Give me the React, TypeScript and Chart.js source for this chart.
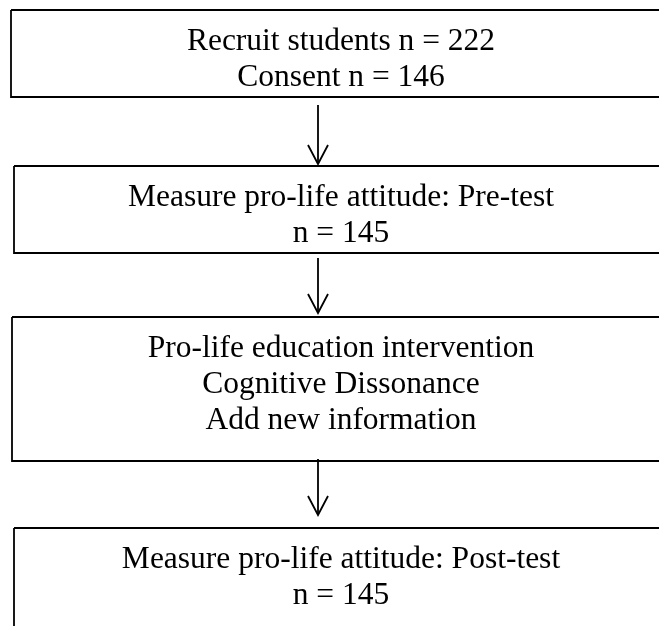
import React, { useEffect, useRef } from "react";
import { Chart, registerables } from "chart.js";

Chart.register(...registerables);

// Flowchart content
const stepLines: string[][] = [
  ["Recruit students n = 222", "Consent n = 146"],
  ["Measure pro-life attitude: Pre-test", "n = 145"],
  ["Pro-life education intervention", "Cognitive Dissonance", "Add new information"],
  ["Measure pro-life attitude: Post-test", "n = 145"],
];

// Box extents in chart units (x: 0..659, y: 0..626 top-down)
const boxLeft = [11, 14, 12, 14];
const boxRight = [671, 671, 671, 671];
const boxTop = [10, 166, 317, 528];
const boxBottom = [97, 253, 461, 660];

// Arrows (vertical, x fixed) start/end in chart units
const arrowX = 318;
const arrowStart = [105, 258, 459];
const arrowEnd = [164, 313, 515];

const TEXT_X = 341;
const FIRST_BASELINE = 40;
const LINE_STEP = 36;

export default function App() {
  const ref = useRef<HTMLCanvasElement | null>(null);

  useEffect(() => {
    if (!ref.current) return;
    const datasets: any[] = [];
    stepLines.forEach((_, i) => {
      const l = boxLeft[i], r = boxRight[i], t = boxTop[i], b = boxBottom[i];
      datasets.push({
        data: [
          { x: l, y: t },
          { x: r, y: t },
          { x: r, y: b },
          { x: l, y: b },
          { x: l, y: t },
        ],
        showLine: true,
        borderColor: "#000",
        borderWidth: 1.8,
        pointRadius: 0,
        fill: false,
        tension: 0,
      });
    });
    arrowStart.forEach((s, i) => {
      const e = arrowEnd[i];
      datasets.push({
        data: [
          { x: arrowX, y: s },
          { x: arrowX, y: e },
        ],
        showLine: true,
        borderColor: "#000",
        borderWidth: 1.8,
        pointRadius: 0,
        fill: false,
      });
      datasets.push({
        data: [
          { x: arrowX - 10, y: e - 19 },
          { x: arrowX, y: e },
          { x: arrowX + 10, y: e - 19 },
        ],
        showLine: true,
        borderColor: "#000",
        borderWidth: 1.8,
        pointRadius: 0,
        fill: false,
        borderJoinStyle: "miter",
      });
    });

    const textPlugin = {
      id: "boxText",
      afterDatasetsDraw(chart: any) {
        const { ctx, scales } = chart;
        const xs = scales.x, ys = scales.y;
        ctx.save();
        ctx.fillStyle = "#000";
        ctx.font = '31.5px "Liberation Serif", "Times New Roman", serif';
        ctx.textAlign = "center";
        ctx.textBaseline = "alphabetic";
        stepLines.forEach((lines, i) => {
          lines.forEach((line, j) => {
            const y = ys.getPixelForValue(boxTop[i] + FIRST_BASELINE + j * LINE_STEP);
            const x = xs.getPixelForValue(TEXT_X);
            ctx.fillText(line, x, y);
          });
        });
        ctx.restore();
      },
    };

    const chart = new Chart(ref.current, {
      type: "scatter",
      data: { datasets },
      options: {
        animation: false,
        responsive: false,
        maintainAspectRatio: false,
        layout: { padding: 0 },
        plugins: { legend: { display: false }, tooltip: { enabled: false } },
        scales: {
          x: { type: "linear", min: 0, max: 659, display: false },
          y: { type: "linear", min: 0, max: 626, reverse: true, display: false },
        },
      },
      plugins: [textPlugin],
    });
    return () => chart.destroy();
  }, []);

  return (
    <div style={{ position: "absolute", left: 0, top: 0, width: 659, height: 626, background: "#fff" }}>
      <canvas ref={ref} width={659} height={626} style={{ display: "block" }} />
    </div>
  );
}
